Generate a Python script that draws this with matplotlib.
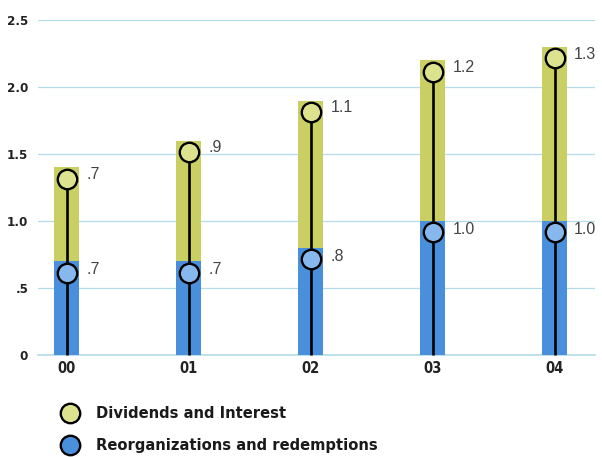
import matplotlib
matplotlib.use("Agg")
import matplotlib.pyplot as plt
from matplotlib.lines import Line2D

# Values (billions)
years = ["00", "01", "02", "03", "04"]
reorganizations = [0.7, 0.7, 0.8, 1.0, 1.0]
dividends = [0.7, 0.9, 1.1, 1.2, 1.3]
reorg_labels = [".7", ".7", ".8", "1.0", "1.0"]
div_labels = [".7", ".9", "1.1", "1.2", "1.3"]
y_ticks = [0, 0.5, 1.0, 1.5, 2.0, 2.5]
y_ticklabels = ["0", ".5", "1.0", "1.5", "2.0", "2.5"]

BLUE = "#4a8fdc"
BLUE_LIGHT = "#86b8ee"
GREEN = "#c9cf62"
GREEN_LIGHT = "#dde28f"
GRID = "#b3dbe9"
COND = dict(family="DejaVu Sans", fontstretch="condensed", fontweight="bold")

fig = plt.figure(figsize=(6.02, 4.57), dpi=100)
ax = fig.add_axes([0.063, 0.223, 0.925, 0.733])

x = list(range(len(years)))
width = 0.205
ax.bar(x, reorganizations, width=width, color=BLUE, zorder=2)
ax.bar(x, dividends, width=width, bottom=reorganizations, color=GREEN, zorder=2)

marker_off = 0.085
for i in x:
    r = reorganizations[i]
    top = r + dividends[i]
    yb = r - marker_off
    yt = top - marker_off
    ax.plot([i, i], [0, yt], color="black", lw=1.9, zorder=3,
            solid_capstyle="butt", clip_on=False)
    ax.plot([i], [yb], marker="o", ms=14, mfc=BLUE_LIGHT, mec="black",
            mew=1.7, zorder=4, clip_on=False)
    ax.plot([i], [yt], marker="o", ms=14, mfc=GREEN_LIGHT, mec="black",
            mew=1.7, zorder=4, clip_on=False)
    ax.annotate(reorg_labels[i], (i, yb), xytext=(14, 2),
                textcoords="offset points", fontsize=11.5, color="#444444",
                family="Liberation Sans", va="center", ha="left")
    ax.annotate(div_labels[i], (i, yt), xytext=(14, 3),
                textcoords="offset points", fontsize=11.5, color="#444444",
                family="Liberation Sans", va="center", ha="left")

ax.set_xlim(-0.238, 4.328)
ax.set_ylim(0, 2.5)
ax.set_yticks(y_ticks)
ax.set_yticklabels(y_ticklabels, fontsize=9.5, color="#222222", **COND)
ax.set_xticks(x)
ax.set_xticklabels(years, fontsize=10.5, color="#222222", **COND)
ax.tick_params(axis="both", length=0)
ax.tick_params(axis="y", pad=7)
ax.tick_params(axis="x", pad=4)
for s in ax.spines.values():
    s.set_visible(False)
ax.set_axisbelow(True)
ax.yaxis.grid(True, color=GRID, lw=0.9)
ax.axhline(0, color=GRID, lw=1.2, zorder=1, clip_on=False)

# Legend drawn in figure coordinates
legend_items = [("Dividends and Interest", GREEN_LIGHT),
                ("Reorganizations and redemptions", BLUE)]
for k, (label, col) in enumerate(legend_items):
    yy = 0.096 - k * 0.07
    fig.add_artist(Line2D([0.116], [yy], marker="o", ms=14, mfc=col,
                          mec="black", mew=1.7, transform=fig.transFigure))
    fig.text(0.159, yy, label, fontsize=11.8, color="#1a1a1a",
             va="center", ha="left", **COND)

fig.savefig("out.png", dpi=100)
